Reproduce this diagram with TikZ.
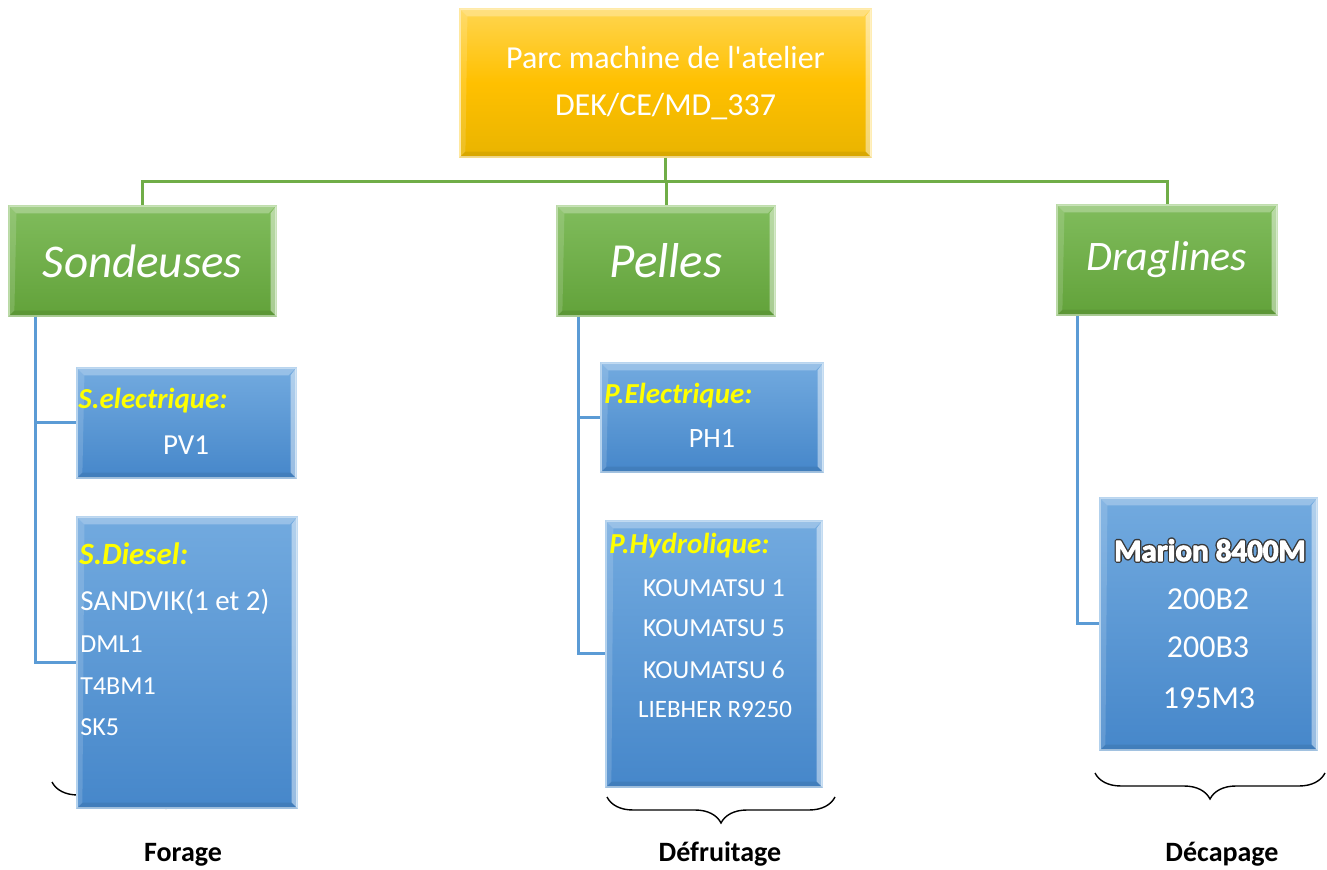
\documentclass[tikz,border=0pt]{standalone}
\usepackage{fontspec}
\setmainfont{Carlito}
\usetikzlibrary{decorations.pathreplacing}
\definecolor{gline}{HTML}{70AD47}
\definecolor{bline}{HTML}{5B9BD5}
\definecolor{ytop}{HTML}{FFD54F}
\definecolor{ymid}{HTML}{FFC000}
\definecolor{ybot}{HTML}{E9B400}
\definecolor{gtop}{HTML}{80BC5C}
\definecolor{gbot}{HTML}{62A23A}
\definecolor{btop}{HTML}{72AADF}
\definecolor{bbot}{HTML}{4687CA}
\definecolor{lab}{HTML}{FFFF00}
\definecolor{outl}{HTML}{3A3A3A}
\newcommand{\outlinedtext}[1]{\rlap{\special{pdf:code q 0.22 0.22 0.22 RG 1.9 w 1 j 1 Tr}#1\special{pdf:code Q}}\special{pdf:code q 1 1 1 RG 0.5 w 1 j 2 Tr}#1\special{pdf:code Q}}
\tikzset{
  basebox/.style={rectangle, inner sep=0pt, text=white},
  yellowbox/.style={basebox, top color=ytop, bottom color=ybot, middle color=ymid, draw=ytop!60!white, line width=0.6pt},
  greenbox/.style={basebox, top color=gtop, bottom color=gbot, draw=gtop!60!white, line width=0.6pt},
  bluebox/.style={basebox, top color=btop, bottom color=bbot, draw=btop!60!white, line width=0.6pt},
  gconn/.style={draw=gline, line width=1.5pt},
  bconn/.style={draw=bline, line width=1.5pt},
  txt/.style={inner sep=0pt, text=white, anchor=base west},
  ctxt/.style={inner sep=0pt, text=white, anchor=base},
  labtxt/.style={inner sep=0pt, text=lab, anchor=base west, font=\fontsize{14.5}{17}\selectfont\bfseries\itshape},
  bracestyle/.style={draw=black, line width=0.7pt, decorate, decoration={brace, amplitude=13pt}},
  bottomlab/.style={inner sep=0pt, anchor=base, font=\fontsize{14}{17}\selectfont\bfseries}
}
\begin{document}
\begin{tikzpicture}[x=0.5pt, y=-0.5pt]
\useasboundingbox (0,0) rectangle (1327,870);

% braces (drawn first, boxes may hide parts)
\draw[bracestyle] (280,782) -- (52,782);
\draw[bracestyle] (835,797) -- (607,797);
\draw[bracestyle] (1325,773) -- (1095,773);

% boxes
\node[yellowbox, minimum width=205.5pt, minimum height=74pt, align=center,
      font=\fontsize{16}{23.5}\selectfont] (top) at (665.5,83) {Parc machine de l\textquotesingle atelier\\DEK/CE/MD\_337};
\node[greenbox, minimum width=133.5pt, minimum height=55pt, font=\fontsize{23.5}{28}\selectfont\itshape] (sond) at (142.5,261) {Sondeuses};
\node[greenbox, minimum width=109pt, minimum height=55pt, font=\fontsize{24.5}{28}\selectfont\itshape] (pel) at (666,261) {Pelles};
\node[greenbox, minimum width=110pt, minimum height=55pt, font=\fontsize{21}{26}\selectfont\itshape] (drag) at (1167,260) {Draglines};

\node[bluebox, minimum width=109.5pt, minimum height=55pt] (sel) at (186.5,423) {};
\node[bluebox, minimum width=110pt, minimum height=145.5pt] (sdi) at (187,662.5) {};
\node[bluebox, minimum width=111pt, minimum height=54.5pt] (pel1) at (712,417.5) {};
\node[bluebox, minimum width=108pt, minimum height=133pt] (hyd) at (714,654) {};
\node[bluebox, minimum width=108.5pt, minimum height=126pt] (mar) at (1208.5,624) {};

% bevel effect
\foreach \n in {top,sond,pel,drag,sel,sdi,pel1,hyd,mar}{
  \fill[white, opacity=0.28] (\n.north west) -- (\n.north east) -- ([shift={(-4pt,-4pt)}]\n.north east) -- ([shift={(4pt,-4pt)}]\n.north west) -- cycle;
  \fill[white, opacity=0.45] (\n.north east) -- (\n.south east) -- ([shift={(-3pt,3pt)}]\n.south east) -- ([shift={(-3pt,-4pt)}]\n.north east) -- cycle;
  \fill[white, opacity=0.15] (\n.north west) -- (\n.south west) -- ([shift={(3pt,3pt)}]\n.south west) -- ([shift={(4pt,-4pt)}]\n.north west) -- cycle;
  \fill[black, opacity=0.07] (\n.south west) -- (\n.south east) -- ([shift={(-3pt,3pt)}]\n.south east) -- ([shift={(3pt,3pt)}]\n.south west) -- cycle;
}

% green connectors
\coordinate (hub) at (665.5,182);
\draw[gconn] (top.south) -- (hub);
\draw[gconn] (hub) -| (sond.north);
\draw[gconn] (hub) -| (pel.north);
\draw[gconn] (hub) -| (drag.north);

% blue connectors
\draw[bconn] ([xshift=13.5pt]sond.south west) |- (sel.west);
\draw[bconn] ([xshift=13.5pt]sond.south west) |- (sdi.west);
\draw[bconn] ([xshift=11pt]pel.south west) |- (pel1.west);
\draw[bconn] ([xshift=11pt]pel.south west) |- (hyd.west);
\draw[bconn] ([xshift=10.5pt]drag.south west) |- (mar.west);

% texts in Sondeuses boxes
\node[labtxt] (t1) at (78,409) {S.electrique:};
\node[ctxt, font=\fontsize{14.5}{17}\selectfont] (t2) at (186,455) {PV1};
\node[labtxt, font=\fontsize{15.5}{18}\selectfont\bfseries\itshape] (t3) at (79,565) {S.Diesel:};
\node[txt, font=\fontsize{14.5}{17}\selectfont] (t4) at (80,611) {SANDVIK(1 et 2)};
\node[txt, font=\fontsize{13}{16}\selectfont] (t5) at (80,653) {DML1};
\node[txt, font=\fontsize{13}{16}\selectfont] (t6) at (80,695) {T4BM1};
\node[txt, font=\fontsize{13}{16}\selectfont] (t7) at (80,735) {SK5};

% texts in Pelles boxes
\node[labtxt] (t8) at (604,404) {P.Electrique:};
\node[ctxt, font=\fontsize{14}{17}\selectfont] (t9) at (712,448) {PH1};
\node[labtxt] (t10) at (609,554) {P.Hydrolique:};
\node[ctxt, font=\fontsize{13}{16}\selectfont] (t11) at (714,597) {KOUMATSU 1};
\node[ctxt, font=\fontsize{13}{16}\selectfont] (t12) at (714,637) {KOUMATSU 5};
\node[ctxt, font=\fontsize{13}{16}\selectfont] (t13) at (714,678) {KOUMATSU 6};
\node[ctxt, font=\fontsize{12.5}{16}\selectfont] (t14) at (715,718) {LIEBHER R9250};

% texts in Draglines box
\node[ctxt, font=\fontsize{15.5}{19}\selectfont\bfseries] (t15) at (1210,561) {\outlinedtext{Marion 8400M}};
\node[ctxt, font=\fontsize{16}{19}\selectfont] (t16) at (1208,610) {200B2};
\node[ctxt, font=\fontsize{16}{19}\selectfont] (t17) at (1208,658) {200B3};
\node[ctxt, font=\fontsize{16}{19}\selectfont] (t18) at (1209,708) {195M3};

% bottom labels
\node[bottomlab] (forage) at (183,861) {Forage};
\node[bottomlab] (defr) at (720,861) {Défruitage};
\node[bottomlab] (decap) at (1222,861) {Décapage};
\end{tikzpicture}
\end{document}
